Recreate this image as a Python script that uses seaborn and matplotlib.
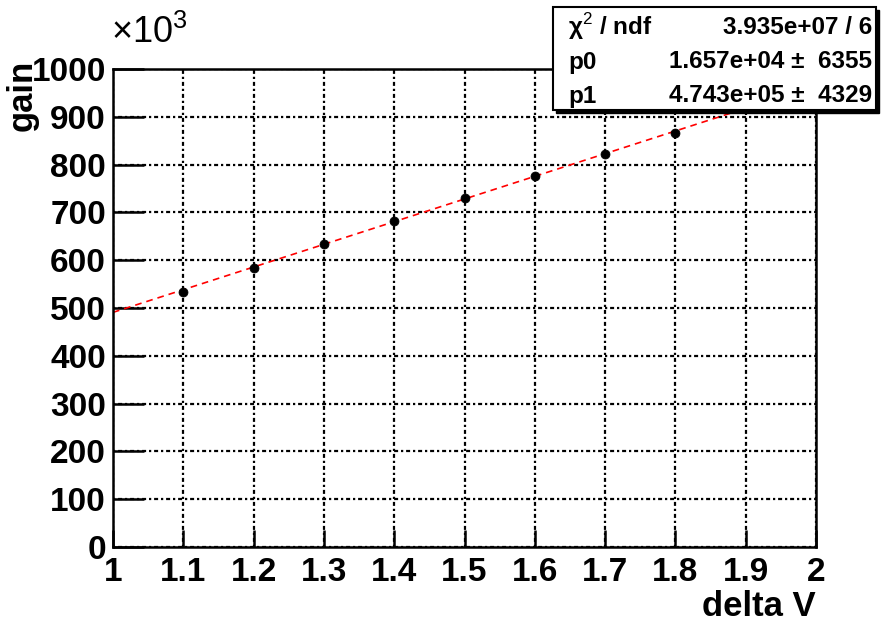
import numpy as np
import pandas as pd
import matplotlib
matplotlib.use("Agg")
import matplotlib.pyplot as plt
import seaborn as sns
from matplotlib.patches import Rectangle

# -----------------------------
# Data (gain in units of 10^3)
# -----------------------------
delta_v = [1.1, 1.2, 1.3, 1.4, 1.5, 1.6, 1.7, 1.8]
gain = [534, 584, 633, 683, 731, 777, 823, 866]

# fit parameters from the stats box
p0 = 1.657e+04
p1 = 4.743e+05

x_ticks = [1, 1.1, 1.2, 1.3, 1.4, 1.5, 1.6, 1.7, 1.8, 1.9, 2]
x_tick_labels = ["1", "1.1", "1.2", "1.3", "1.4", "1.5", "1.6", "1.7", "1.8", "1.9", "2"]
y_ticks = [0, 100, 200, 300, 400, 500, 600, 700, 800, 900, 1000]

stats_rows = [
    ("χ$^{2}$ / ndf", "3.935e+07 / 6"),
    ("p0", "1.657e+04 ±  6355"),
    ("p1", "4.743e+05 ±  4329"),
]

df = pd.DataFrame({"delta V": delta_v, "gain": gain})

sns.set_theme(style="white")
plt.rcParams['font.family'] = ['Liberation Sans', 'DejaVu Sans']
plt.rcParams['mathtext.fontset'] = 'custom'
plt.rcParams['mathtext.rm'] = 'Liberation Sans'
plt.rcParams['mathtext.bf'] = 'Liberation Sans:bold'
plt.rcParams['text.color'] = 'black'
plt.rcParams['xtick.color'] = 'black'
plt.rcParams['ytick.color'] = 'black'

W, H = 885, 630
fig = plt.figure(figsize=(W / 100, H / 100), dpi=100)
fig.patch.set_facecolor("white")

left, right, top, bottom = 113, 816, 69, 547
ax = fig.add_axes([left / W, 1 - bottom / H, (right - left) / W, (bottom - top) / H])

# -----------------------------
# Fit line + points
# -----------------------------
xs = np.array([1.0, 2.0])
ax.plot(xs, (p0 + p1 * xs) / 1000, color="red", lw=1.2, ls=(0, (4, 3)), zorder=2)

sns.scatterplot(data=df, x="delta V", y="gain", ax=ax, color="black",
                s=42, edgecolor="black", zorder=3, legend=False)

ax.set_xlim(1, 2)
ax.set_ylim(0, 1000)
ax.set_xticks(x_ticks)
ax.set_xticklabels(x_tick_labels)
ax.set_yticks(y_ticks)

ax.grid(True, color="black", lw=1.6, ls=(0, (1, 1.3, 1.8, 1.3)))
ax.set_axisbelow(True)

for sp in ax.spines.values():
    sp.set_color("black")
    sp.set_linewidth(1.8)

ax.tick_params(axis="x", direction="in", length=12, width=1.8, labelsize=24,
               pad=7, top=False, bottom=True)
ax.tick_params(axis="y", direction="in", length=22, width=1.8, labelsize=24,
               pad=5, left=True, right=False)
for lab in ax.get_xticklabels() + ax.get_yticklabels():
    lab.set_fontweight("bold")

ax.set_xlabel("")
ax.set_ylabel("")

fig.text(right / W, 1 - 607 / H, "delta V", ha="right", va="center",
         fontsize=25, fontweight="bold")
fig.text(22 / W, 1 - 60 / H, "gain", ha="center", va="top", rotation=90,
         fontsize=25, fontweight="bold")
fig.text(111 / W, 1 - 33 / H, "×10$^{3}$", ha="left", va="center",
         fontsize=26)

# -----------------------------
# Stats box
# -----------------------------
bx0, bx1, by0, by1 = 553, 876, 7, 110
fig.patches.append(Rectangle((bx0 / W + 3 / W, 1 - (by1 + 3) / H),
                             (bx1 - bx0) / W, (by1 - by0) / H,
                             transform=fig.transFigure, facecolor="black",
                             edgecolor="black", zorder=10))
fig.patches.append(Rectangle((bx0 / W, 1 - by1 / H), (bx1 - bx0) / W, (by1 - by0) / H,
                             transform=fig.transFigure, facecolor="white",
                             edgecolor="black", lw=1.5, zorder=11))
row_y = [27, 62, 96]
for (name, val), yy in zip(stats_rows, row_y):
    fig.text(568 / W, 1 - yy / H, name, ha="left", va="center", fontsize=17.5,
             fontweight="bold", zorder=12)
    fig.text(872 / W, 1 - yy / H, val, ha="right", va="center", fontsize=17.5,
             fontweight="bold", zorder=12)

fig.savefig("out.png", dpi=100)
